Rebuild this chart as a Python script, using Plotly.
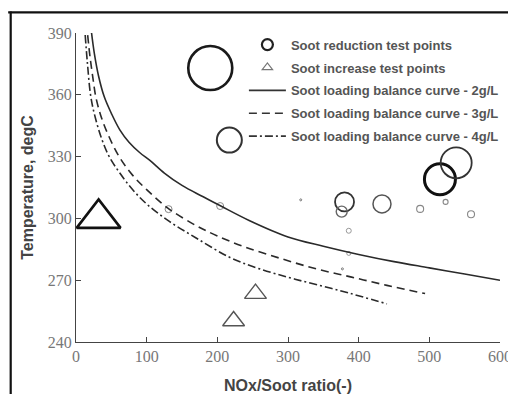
import plotly.graph_objects as go

# Soot reduction test points (circles)
red_x = [190, 217, 515, 538, 380, 376, 433, 487, 523, 559, 386, 318, 386, 377, 131, 204]
red_t = [373, 338, 319, 327, 308, 303.3, 307, 304.6, 308, 302, 294, 309, 283, 275.5, 304.5, 306]
red_size = [44, 25, 31, 31, 19, 11, 18, 7, 5, 7, 5, 2, 4, 2, 7, 7]
red_lw = [2.6, 2, 3, 1.8, 1.8, 1.4, 1.5, 1.1, 1.1, 1.1, 1, 1, 1, 1, 1, 1]
red_col = ["#1a1a1a", "#333", "#111", "#333", "#333", "#666", "#555", "#888", "#888", "#888",
           "#999", "#777", "#999", "#777", "#888", "#888"]

# Soot increase test points (triangles)
inc_x = [32, 254, 223]
inc_t = [300, 263.5, 250.2]
inc_size = [38, 19, 19]
inc_lw = [2.6, 1.4, 1.4]
inc_col = ["#111", "#555", "#555"]

# Balance curves
c2_x = [22, 26, 32, 40, 50, 62, 75, 90, 105, 125, 150, 180, 205, 245, 300, 350, 400, 450, 500, 550, 600]
c2_t = [390, 380, 369, 359, 351, 343, 337, 332, 328, 322, 316, 310.5, 306, 299, 291, 286.5, 282.5, 279, 276, 273, 270]
c3_x = [16.5, 20, 24, 28, 35, 45, 61, 80, 100, 130, 170, 200, 240, 290, 340, 390, 440, 494]
c3_t = [389, 378, 368, 359, 350, 341, 330, 321, 314, 305, 296.5, 291.5, 286, 280.5, 275.5, 271.5, 267.5, 263.5]
c4_x = [13, 16, 21, 28, 37, 47, 62, 80, 100, 130, 170, 218, 260, 310, 373, 440]
c4_t = [389, 376, 359, 348, 338, 330, 322, 314, 307, 299, 290.5, 281, 275.5, 270.5, 265, 258.5]

x_ticks = [0, 100, 200, 300, 400, 500, 600]
y_ticks = [240, 270, 300, 330, 360, 390]

names = ["Soot reduction test points", "Soot increase test points",
         "Soot loading balance curve - 2g/L", "Soot loading balance curve - 3g/L",
         "Soot loading balance curve - 4g/L"]

curve_col = "#2a2a2a"
dash3 = "8px,5px"
dash4 = "8px,3px,2px,3px"

fig = go.Figure()
# data traces (legend entries provided by proxy traces below)
fig.add_trace(go.Scatter(
    x=red_x, y=red_t, mode="markers", showlegend=False,
    marker=dict(symbol="circle-open", size=red_size, color=red_col, opacity=1,
                line=dict(width=red_lw, color=red_col)), cliponaxis=False))
fig.add_trace(go.Scatter(
    x=inc_x, y=inc_t, mode="markers", showlegend=False,
    marker=dict(symbol="triangle-up-open", size=inc_size, color=inc_col, opacity=1,
                line=dict(width=inc_lw, color=inc_col)), cliponaxis=False))
fig.add_trace(go.Scatter(
    x=c2_x, y=c2_t, mode="lines", showlegend=False,
    line=dict(color=curve_col, width=1.6, shape="spline"), cliponaxis=False))
fig.add_trace(go.Scatter(
    x=c3_x, y=c3_t, mode="lines", showlegend=False,
    line=dict(color=curve_col, width=1.6, dash=dash3, shape="spline"), cliponaxis=False))
fig.add_trace(go.Scatter(
    x=c4_x, y=c4_t, mode="lines", showlegend=False,
    line=dict(color=curve_col, width=1.6, dash=dash4, shape="spline"), cliponaxis=False))

# legend proxies (no data)
fig.add_trace(go.Scatter(x=[None], y=[None], mode="markers", name=names[0], legendgroup="a",
                         marker=dict(symbol="circle-open", size=11, color="#222", opacity=1,
                                     line=dict(width=2.2, color="#222"))))
fig.add_trace(go.Scatter(x=[None], y=[None], mode="markers", name=names[1], legendgroup="b",
                         marker=dict(symbol="triangle-up-open", size=9, color="#777", opacity=1,
                                     line=dict(width=1.2, color="#777"))))
fig.add_trace(go.Scatter(x=[None], y=[None], mode="lines", name=names[2], legendgroup="c",
                         line=dict(color="#333", width=1.6)))
fig.add_trace(go.Scatter(x=[None], y=[None], mode="lines", name=names[3], legendgroup="d",
                         line=dict(color="#333", width=1.6, dash=dash3)))
fig.add_trace(go.Scatter(x=[None], y=[None], mode="lines", name=names[4], legendgroup="e",
                         line=dict(color="#333", width=1.6, dash=dash4)))

axis_common = dict(showgrid=False, zeroline=False, showline=True, linecolor="#444", linewidth=1.3,
                   ticks="inside", ticklen=5, tickcolor="#444", tickwidth=1.2,
                   ticklabeloverflow="allow",
                   tickfont=dict(family="Liberation Serif", size=16, color="#777"))

fig.update_layout(
    width=508, height=394,
    margin=dict(l=76, r=8, t=33.3, b=52.3, autoexpand=False),
    paper_bgcolor="white", plot_bgcolor="white",
    xaxis=dict(range=[0, 600], tickvals=x_ticks, ticktext=[str(v) for v in x_ticks],
               title=dict(text="NOx/Soot ratio(-)", standoff=15,
                          font=dict(family="Liberation Sans", size=16, color="#444", weight="bold")),
               **axis_common),
    yaxis=dict(range=[240, 390], tickvals=y_ticks, ticktext=[str(v) for v in y_ticks],
               title=dict(text="Temperature, degC", standoff=10,
                          font=dict(family="Liberation Sans", size=16, color="#444", weight="bold")),
               **axis_common),
    legend=dict(x=0.396, y=1.011, xanchor="left", yanchor="top", bgcolor="rgba(0,0,0,0)",
                font=dict(family="Liberation Sans", size=13, color="#555", weight="bold"),
                itemwidth=37, traceorder="grouped", tracegroupgap=3),
    showlegend=True,
    shapes=[
        # outer frame (top edge), positioned in pixels above the plot area
        dict(type="line", xref="paper", yref="paper", ysizemode="pixel", yanchor=1,
             x0=-0.16, x1=1.03, y0=20.6, y1=20.6,
             line=dict(color="#111", width=2.2), layer="above"),
        # outer frame (left edge)
        dict(type="line", xref="paper", yref="paper", xsizemode="pixel", xanchor=0,
             ysizemode="pixel", yanchor=1,
             x0=-65.3, x1=-65.3, y0=21.6, y1=-380,
             line=dict(color="#111", width=2.2), layer="above"),
    ],
)

fig.write_html(
    "out.html",
    config={"displayModeBar": False},
    post_script="document.body.style.margin='0';document.body.style.overflow='hidden';",
)
